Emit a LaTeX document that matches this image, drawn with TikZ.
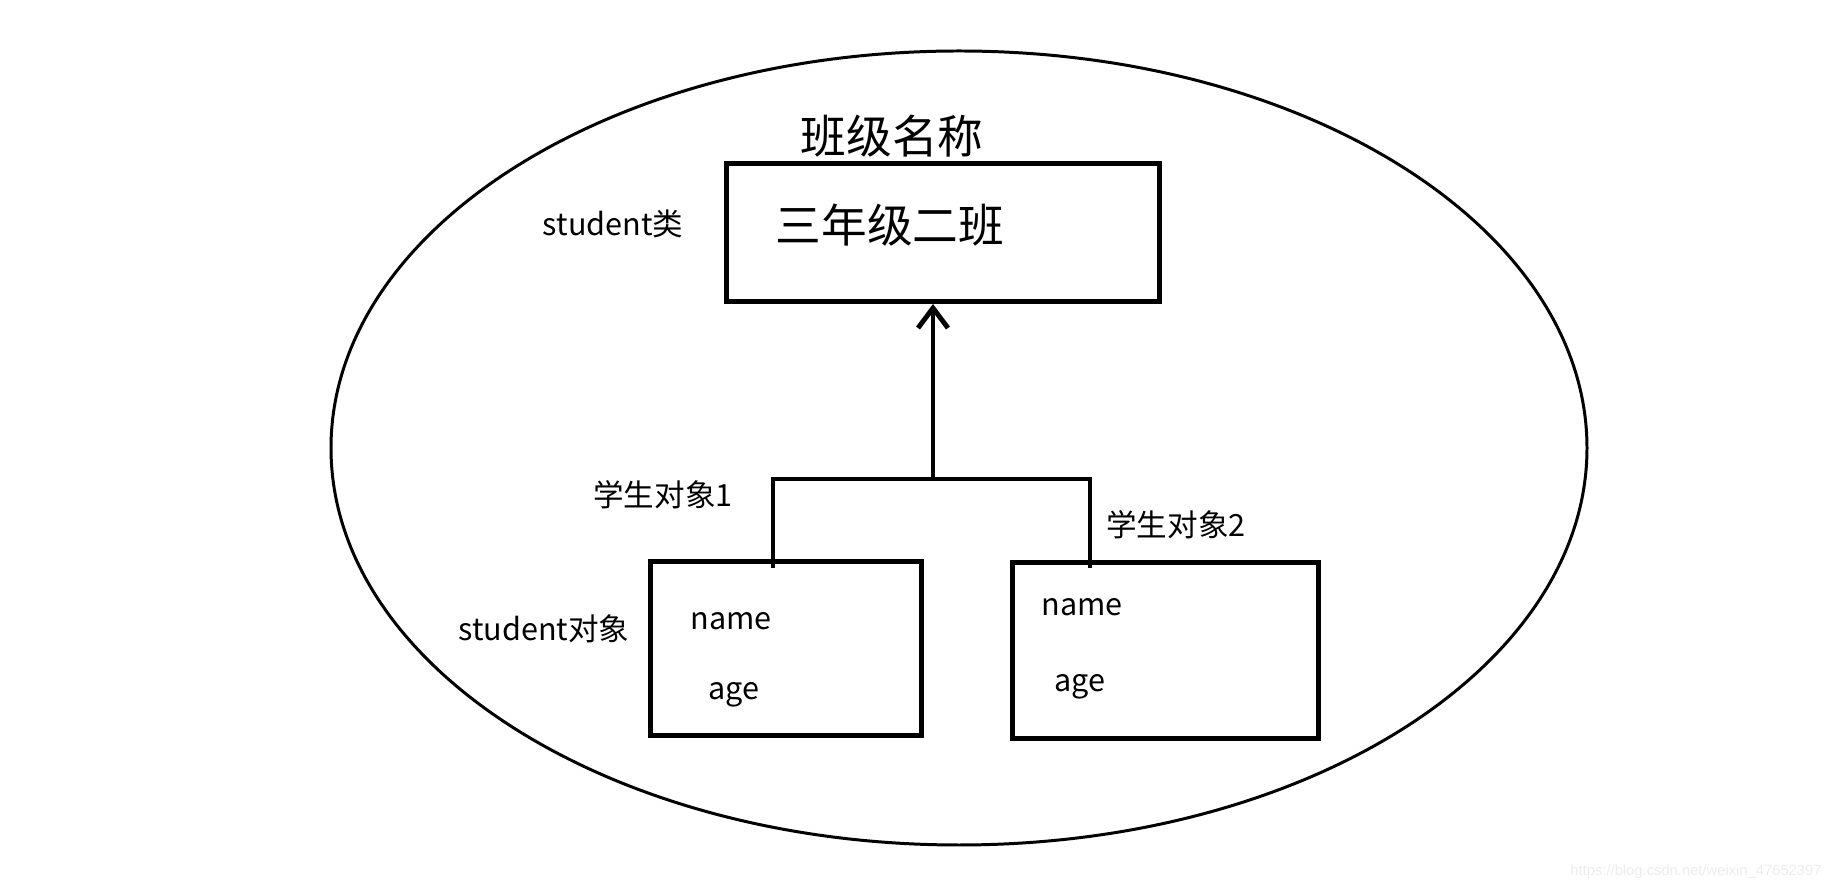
\documentclass[tikz,border=0pt]{standalone}
\usepackage{fontspec}
\setmainfont{Noto Sans CJK SC}
\newfontfamily\markfont{Liberation Sans}
\usetikzlibrary{arrows.meta,positioning}

\begin{document}
\begin{tikzpicture}[node distance=0.2cm,
    box/.style={draw, line width=1.4pt, inner sep=0pt},
    lbl/.style={font=\fontsize{8.7pt}{10pt}\selectfont, inner sep=0pt},
    big/.style={font=\fontsize{13pt}{15pt}\selectfont, inner sep=0pt},
    wire/.style={line width=1.4pt}]
    \useasboundingbox (0,0) rectangle (18.41,8.89);
    \draw[line width=0.85pt] (9.59,4.41) ellipse [x radius=6.28, y radius=3.97];

    \node[box, minimum width=4.33cm, minimum height=1.38cm] (cls) at (9.43,6.565) {};
    \node[box, minimum width=2.71cm, minimum height=1.74cm] (obj1) at (7.86,2.405) {};
    \node[box, minimum width=3.06cm, minimum height=1.76cm] (obj2) at (11.655,2.385) {};

    \node[big] (title) at (8.92,7.53) {班级名称};
    \node[big] (clsname) at (8.90,6.64) {三年级二班};
    \node[lbl] (clslbl) at (6.13,6.65) {student类};
    \node[lbl] (objlbl) at (5.44,2.60) {student对象};
    \node[lbl] (stu1) at (6.63,3.94) {学生对象1};
    \node[lbl] (stu2) at (11.76,3.64) {学生对象2};

    \node[lbl] (name1) at (7.31,2.68) {name};
    \node[lbl] (age1) at (7.34,1.94) {age};
    \node[lbl] (name2) at (10.82,2.82) {name};
    \node[lbl] (age2) at (10.80,2.02) {age};

    \coordinate (join) at (9.33,4.10);
    \coordinate (leg1) at (7.73,3.21);
    \coordinate (leg2) at (10.90,3.21);
    \draw[wire] (leg1) |- (join) -| (leg2);
    \draw[wire, -{Straight Barb[length=2mm, width=3mm]}] (join) -- (join |- cls.south);

    \node[font=\markfont\fontsize{4.2pt}{5pt}\selectfont, text=gray!15, inner sep=0pt] (mark) at (16.96,0.17) {https://blog.csdn.net/weixin\_47652397};
\end{tikzpicture}
\end{document}
